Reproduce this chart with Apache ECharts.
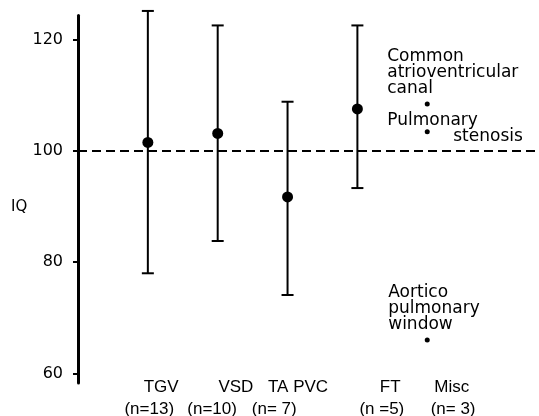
<!DOCTYPE html>
<html>
<head>
<meta charset="utf-8">
<script src="https://cdn.jsdelivr.net/npm/echarts@6/dist/echarts.min.js"></script>
<style>
html,body{margin:0;padding:0;background:#fff;}
#chart{width:539px;height:416px;}
</style>
</head>
<body>
<div id="chart"></div>
<script>
// ---- data ----
var categories = ['TGV', 'VSD', 'TA PVC', 'FT', 'Misc'];
var groupSizes = ['(n=13)', '(n=10)', '(n= 7)', '(n =5)', '(n= 3)'];
var groupMeans = [101.5, 103.1, 91.7, 107.5];
var groupUpper = [125.1, 122.5, 108.8, 122.5];
var groupLower = [78.0, 83.8, 74.1, 93.3];
var miscValues = [108.4, 103.4, 66.0];
var miscNames = ['Common\natrioventricular\ncanal', 'Pulmonary\nstenosis', 'Aortico\npulmonary\nwindow'];
var yTicks = [60, 80, 100, 120];
var referenceIQ = 100;
var yMin = 58.3, yMax = 124.3;

// ---- layout / style ----
var FONT = 'DejaVu Sans';
var NARROW = 'Liberation Sans Narrow, Liberation Sans, sans-serif';
var nameShift = [0.19, 0.26, 0.15, 0.47, 0.35];   // label placement offsets (axis units)
var sizeShift = [0.02, -0.08, -0.19, 0.35, 0.37];

var barData = groupMeans.map(function (m, i) { return [i, groupLower[i], groupUpper[i]]; });
var meanData = groupMeans.map(function (m, i) { return [i, m]; });
var miscIndex = categories.indexOf('Misc');

var miscLabelStyles = [
  { position: 'top', distance: 5, align: 'left', offset: [-40, 0] },
  { position: [-37.5, -17], align: 'left', verticalAlign: 'top',
    formatter: '{a|Pulmonary}\n{b|stenosis}' },
  { position: 'top', distance: 5, align: 'left', offset: [-39, 0] }
];
var miscData = miscValues.map(function (v, i) {
  var lab = Object.assign({ show: true, formatter: miscNames[i] }, miscLabelStyles[i]);
  return { value: [miscIndex, v], label: lab };
});

function labelAxis(texts, shifts, margin) {
  return {
    type: 'value', min: -1, max: 5.6, position: 'bottom', offset: 0,
    axisLine: { show: false, onZero: false }, axisTick: { show: false }, splitLine: { show: false },
    axisLabel: {
      customValues: shifts.map(function (s, i) { return i + s; }),
      formatter: function (v) {
        var best = 0, bd = 1e9;
        shifts.forEach(function (s, i) { var d = Math.abs(v - (i + s)); if (d < bd) { bd = d; best = i; } });
        return texts[best];
      },
      margin: margin,
      fontFamily: NARROW, fontSize: 17, color: '#000'
    }
  };
}

var chart = echarts.init(document.getElementById('chart'), null, { renderer: 'canvas' });
chart.setOption({
  backgroundColor: '#fff',
  animation: false,
  grid: { left: 78, right: 0, top: 15.4, bottom: 33, containLabel: false, outerBoundsMode: 'none' },
  xAxis: [labelAxis(categories, nameShift, -4), labelAxis(groupSizes, sizeShift, 18)],
  yAxis: {
    type: 'value', min: yMin, max: yMax,
    splitLine: { show: false },
    axisLine: { show: true, onZero: false, lineStyle: { color: '#000', width: 3 } },
    axisTick: { show: true, customValues: yTicks, length: 5, lineStyle: { color: '#000', width: 2 } },
    axisLabel: { customValues: yTicks, fontFamily: FONT, fontSize: 16, color: '#000', margin: 15 }
  },
  graphic: [{
    type: 'text', left: 11, top: 200,
    style: { text: 'IQ', fontFamily: FONT, fontSize: 15, fill: '#000' }
  }],
  series: [
    {
      type: 'custom',
      clip: false,
      data: barData,
      renderItem: function (params, api) {
        var x = api.value(0);
        var lo = api.coord([x, api.value(1)]);
        var hi = api.coord([x, api.value(2)]);
        var hw = 6;
        var st = { stroke: '#000', lineWidth: 2 };
        return {
          type: 'group',
          children: [
            { type: 'line', shape: { x1: lo[0], y1: lo[1], x2: hi[0], y2: hi[1] }, style: st },
            { type: 'line', shape: { x1: lo[0] - hw, y1: lo[1], x2: lo[0] + hw, y2: lo[1] }, style: st },
            { type: 'line', shape: { x1: hi[0] - hw, y1: hi[1], x2: hi[0] + hw, y2: hi[1] }, style: st }
          ]
        };
      },
      z: 3
    },
    {
      type: 'scatter',
      data: meanData,
      symbol: 'circle', symbolSize: 11,
      itemStyle: { color: '#000', opacity: 1 },
      z: 4,
      markLine: {
        silent: true,
        symbol: ['none', 'none'],
        label: { show: false },
        lineStyle: { color: '#000', width: 2, type: [9, 5], opacity: 1 },
        data: [{ yAxis: referenceIQ }]
      }
    },
    {
      type: 'scatter',
      data: miscData,
      symbol: 'circle', symbolSize: 5,
      itemStyle: { color: '#000', opacity: 1 },
      label: {
        show: true, fontFamily: FONT, fontSize: 17, lineHeight: 16, color: '#000',
        rich: {
          a: { fontFamily: FONT, fontSize: 17, lineHeight: 16, color: '#000' },
          b: { fontFamily: FONT, fontSize: 17, lineHeight: 16, color: '#000', padding: [0, 0, 0, 66] }
        }
      },
      z: 4
    }
  ]
});
</script>
</body>
</html>
